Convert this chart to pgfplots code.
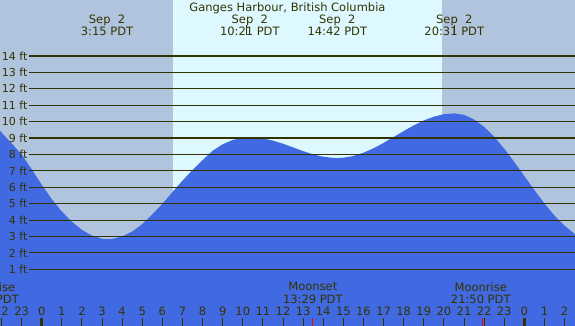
\documentclass[border=0pt]{standalone}
\usepackage{pgfplots}
\pgfplotsset{compat=1.18}
\usepackage{fontspec}
\setmainfont{DejaVu Sans}
\definecolor{night}{RGB}{176,196,222}
\definecolor{day}{RGB}{221,248,255}
\definecolor{tide}{RGB}{65,105,225}
\definecolor{ink}{RGB}{51,51,0}
\begin{document}
\begin{tikzpicture}
\begin{axis}[scale only axis, width=575pt, height=326pt,
  xmin=-2.074, xmax=26.52, ymin=-2.456, ymax=17.41,
  hide axis, clip=true, anchor=south west, at={(0,0)}]
\fill[night] (axis cs:-2.074,-2.456) rectangle (axis cs:26.52,17.41);
\fill[day] (axis cs:6.53,-2.456) rectangle (axis cs:19.89,17.41);
\addplot[fill=tide, draw=none] coordinates {
(-2.2,9.6) (-2.07,9.43) (-1.5,8.68) (-1,8.0) (-0.5,7.1) (0,6.15) (0.5,5.28)
(1,4.52) (1.5,3.9) (2,3.4) (2.5,3.05) (3,2.86) (3.25,2.83) (3.5,2.85) (4,3.0)
(4.5,3.3) (5,3.75) (5.5,4.35) (6,4.98) (6.5,5.7) (7,6.4) (7.5,7.05) (8,7.65)
(8.5,8.22) (9,8.62) (9.5,8.88) (10,9.02) (10.35,9.05) (10.5,9.04) (11,8.98)
(11.5,8.84) (12,8.65) (12.5,8.43) (13,8.2) (13.5,8.0) (14,7.86) (14.5,7.79)
(14.7,7.78) (15,7.8) (15.5,7.9) (16,8.1) (16.5,8.37) (17,8.7) (17.5,9.06)
(18,9.42) (18.5,9.77) (19,10.07) (19.5,10.3) (20,10.45) (20.52,10.5) (21,10.41)
(21.5,10.13) (22,9.68) (22.5,9.08) (23,8.35) (23.5,7.54) (24,6.68) (24.5,5.83)
(25,5.01) (25.5,4.27) (26,3.66) (26.6,3.05) (26.6,-3) (-2.2,-3)} -- cycle;
\pgfplotsinvokeforeach{1,...,14}{
  \draw[ink, line width=1.1pt] (axis cs:-0.63,#1) -- (axis cs:26.52,#1);
  \node[anchor=east, inner sep=0, text=ink, font=\fontsize{11}{12}\selectfont] at (axis cs:-0.70,#1) {#1 ft};
}
\pgfplotsinvokeforeach{-2,...,26}{
  \draw[ink, line width=1pt] (axis cs:#1,-1.97) -- (axis cs:#1,-2.456);
  \node[overlay, inner sep=0, text=ink, font=\fontsize{11.5}{12.5}\selectfont] at (axis cs:#1,-1.54) {\pgfmathtruncatemacro\hh{mod(#1+24,24)}\hh};
}
\draw[ink, line width=3pt] (axis cs:0,-1.97) -- (axis cs:0,-2.456);
\draw[ink, line width=3pt] (axis cs:24,-1.97) -- (axis cs:24,-2.456);
\draw[red, line width=1pt] (axis cs:13.483,-1.97) -- (axis cs:13.483,-2.456);
\draw[red, line width=1pt] (axis cs:21.92,-1.97) -- (axis cs:21.92,-2.456);
\node[inner sep=0, text=ink, font=\fontsize{11.5}{12.5}\selectfont] at (axis cs:12.22,16.92) {Ganges Harbour, British Columbia};
\node[align=center, inner sep=0, text=ink, font=\fontsize{11.5}{12.5}\selectfont] at (axis cs:3.25,15.86) {Sep\ \ 2\\3:15 PDT};
\node[align=center, inner sep=0, text=ink, font=\fontsize{11.5}{12.5}\selectfont] at (axis cs:10.35,15.86) {Sep\ \ 2\\10:21 PDT};
\node[align=center, inner sep=0, text=ink, font=\fontsize{11.5}{12.5}\selectfont] at (axis cs:14.7,15.86) {Sep\ \ 2\\14:42 PDT};
\node[align=center, inner sep=0, text=ink, font=\fontsize{11.5}{12.5}\selectfont] at (axis cs:20.517,15.86) {Sep\ \ 2\\20:31 PDT};
\draw[ink, line width=1pt] (axis cs:10.19,15.89) -- (axis cs:10.19,15.28);
\draw[ink, line width=1pt] (axis cs:20.52,15.89) -- (axis cs:20.52,15.28);
\node[overlay, align=center, inner sep=0, text=ink, font=\fontsize{11.5}{12.5}\selectfont] at (axis cs:-2.62,-0.445) {Moonrise\\21:29 PDT};
\node[align=center, inner sep=0, text=ink, font=\fontsize{11.5}{12.5}\selectfont] at (axis cs:13.483,-0.445) {Moonset\\13:29 PDT};
\node[align=center, inner sep=0, text=ink, font=\fontsize{11.5}{12.5}\selectfont] at (axis cs:21.833,-0.445) {Moonrise\\21:50 PDT};
\end{axis}
\end{tikzpicture}
\end{document}
